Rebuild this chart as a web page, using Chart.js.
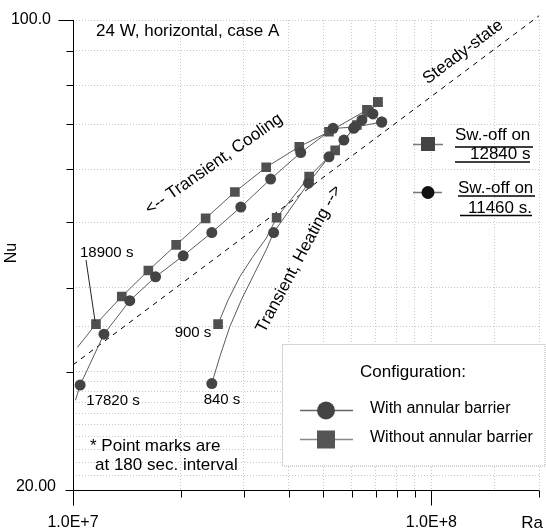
<!DOCTYPE html>
<html>
<head>
<meta charset="utf-8">
<script src="https://cdn.jsdelivr.net/npm/chart.js@4.4.1/dist/chart.umd.min.js"></script>
<style>
  html, body { margin: 0; padding: 0; background: #fff; }
  canvas { display: block; }
</style>
</head>
<body>
<canvas id="nuChart" width="546" height="531"></canvas>
<script>
// Nu vs Ra, 24 W horizontal, case A

const xTicks = [1e7, 2e7, 3e7, 4e7, 5e7, 6e7, 7e7, 8e7, 9e7, 1e8, 2e8];
const xMajor = [1e7, 1e8];
const xTickLabels = ["1.0E+7", "1.0E+8"];
const yTicks = [20, 30, 40, 50, 60, 70, 80, 90, 100];
const yTickLabels = ["20.00", "100.0"];

// with annular barrier (circles)
const withHeatRa = [2.44e7, 3.63e7, 4.54e7, 5.18e7, 5.70e7, 6.07e7, 6.40e7, 6.87e7, 7.27e7];
const withHeatNu = [28.8, 48.3, 57.2, 62.6, 66.3, 69.0, 71.0, 72.5, 70.5];
const withHeatTraceRa = [2.57e7, 2.74e7, 2.95e7, 3.21e7, 3.46e7];
const withHeatTraceNu = [31.6, 35.0, 38.35, 42.0, 45.5];
const withCoolRa = [7.27e7, 6.12e7, 5.32e7, 4.32e7, 3.56e7, 2.94e7, 2.44e7, 2.03e7, 1.70e7, 1.44e7, 1.22e7, 1.047e7];
const withCoolNu = [70.5, 69.3, 69.0, 63.5, 58.0, 52.7, 48.3, 44.6, 41.5, 38.25, 34.1, 28.65];
const withCoolTraceRa = [1.016e7];
const withCoolTraceNu = [27.2];

// without annular barrier (squares)
const withoutHeatRa = [2.54e7, 3.70e7, 4.56e7, 5.39e7, 6.20e7, 6.69e7, 7.09e7];
const withoutHeatNu = [35.3, 50.8, 58.5, 64.0, 69.8, 73.0, 75.5];
const withoutHeatTraceRa = [2.71e7, 2.92e7, 3.18e7, 3.46e7];
const withoutHeatTraceNu = [38.35, 41.5, 44.5, 47.35];
const withoutCoolRa = [7.09e7, 6.61e7, 5.18e7, 4.28e7, 3.46e7, 2.83e7, 2.345e7, 1.94e7, 1.623e7, 1.368e7, 1.159e7];
const withoutCoolNu = [75.5, 73.5, 68.2, 64.8, 60.4, 55.5, 50.7, 46.3, 42.4, 38.8, 35.3];
const withoutCoolTraceRa = [1.029e7];
const withoutCoolTraceNu = [32.6];

// steady-state reference line
const steadyRa = [1e7, 2e8];
const steadyNu = [30.7, 101.5];

const FONT = "'Liberation Sans', Arial, sans-serif";

function track(ra, nu, traceRa, traceNu) {
    const pts = ra.map((x, i) => ({ x: x, y: nu[i], mark: true }))
        .concat(traceRa.map((x, i) => ({ x: x, y: traceNu[i], mark: false })));
    return pts.sort((a, b) => a.x - b.x);
}

function series(points, style, color, r) {
    return {
        data: points,
        showLine: true,
        borderColor: "#5c5c5c",
        borderWidth: 1,
        tension: 0,
        pointStyle: style,
        pointRadius: c => (c.raw && c.raw.mark ? r : 0),
        pointHoverRadius: c => (c.raw && c.raw.mark ? r : 0),
        pointBackgroundColor: color,
        pointBorderWidth: 0
    };
}

function rotText(ctx, str, cx, cy, deg, font) {
    ctx.save();
    ctx.translate(cx, cy);
    ctx.rotate(deg * Math.PI / 180);
    ctx.font = font;
    ctx.textAlign = "center";
    ctx.textBaseline = "middle";
    ctx.fillText(str, 0, 0);
    ctx.restore();
}

function line(ctx, x1, y1, x2, y2, color, w) {
    ctx.save();
    ctx.strokeStyle = color;
    ctx.lineWidth = w;
    ctx.beginPath();
    ctx.moveTo(x1, y1);
    ctx.lineTo(x2, y2);
    ctx.stroke();
    ctx.restore();
}

const overlay = {
    id: "overlay",
    afterDraw(chart) {
        const ctx = chart.ctx;
        const xs = chart.scales.x, ys = chart.scales.y;
        const left = Math.round(xs.getPixelForValue(xTicks[0])) + 0.5;
        const right = xs.getPixelForValue(xTicks[xTicks.length - 1]);
        const bottom = Math.round(ys.getPixelForValue(yTicks[0])) + 0.5;
        const top = ys.getPixelForValue(yTicks[yTicks.length - 1]);

        // axes
        line(ctx, left, top, left, bottom + 15, "#000", 1);
        line(ctx, left - 8, bottom, right, bottom, "#000", 1);
        xTicks.forEach(v => {
            const px = Math.round(xs.getPixelForValue(v)) + 0.5;
            const len = xMajor.includes(v) ? 15 : 7;
            line(ctx, Math.min(px, 545.5), bottom, Math.min(px, 545.5), bottom + len, "#000", 1);
        });
        yTicks.forEach(v => {
            const py = Math.round(ys.getPixelForValue(v)) + 0.5;
            const len = v === 100 ? 15 : 7;
            line(ctx, left - len, py, left, py, "#000", 1);
        });

        ctx.save();
        ctx.fillStyle = "#000";
        ctx.font = "16px " + FONT;
        ctx.textBaseline = "middle";
        ctx.textAlign = "center";
        xMajor.forEach((v, i) => ctx.fillText(xTickLabels[i], xs.getPixelForValue(v), 523));
        ctx.font = "17px " + FONT;
        ctx.fillText("Ra", 532, 523);
        ctx.font = "16px " + FONT;
        ctx.textAlign = "right";
        ctx.fillText(yTickLabels[1], 51, ys.getPixelForValue(100));
        ctx.fillText(yTickLabels[0], 56, ys.getPixelForValue(20) - 3);
        ctx.restore();
        rotText(ctx, "Nu", 12, 253, -90, "16px " + FONT);

        // annotations
        ctx.save();
        ctx.fillStyle = "#000";
        ctx.font = "17px " + FONT;
        ctx.textAlign = "left";
        ctx.textBaseline = "middle";
        ctx.fillText("24 W, horizontal, case A", 96, 31);
        ctx.fillText("* Point marks are", 90, 446);
        ctx.fillText("at 180 sec. interval", 95, 465);
        ctx.font = "15px " + FONT;
        ctx.fillText("18900 s", 80, 253);
        ctx.textAlign = "center";
        ctx.fillText("900 s", 193, 333);
        ctx.fillText("840 s", 222, 400);
        ctx.fillText("17820 s", 113, 401);
        ctx.restore();
        line(ctx, 86, 260, 95, 321, "#222", 1);

        rotText(ctx, "Steady-state", 463, 52, -37, "17px " + FONT);
        rotText(ctx, "<-- Transient, Cooling", 214, 164, -35, "17px " + FONT);
        rotText(ctx, "Transient, Heating -->", 299, 259, -62, "17px " + FONT);

        // switch-off markers
        line(ctx, 413, 144.5, 443, 144.5, "#777", 1.5);
        ctx.fillStyle = "#444";
        ctx.fillRect(421, 137, 14, 14);
        line(ctx, 413, 192.5, 442, 192.5, "#777", 1.5);
        ctx.fillStyle = "#111";
        ctx.beginPath();
        ctx.arc(428, 192.5, 6.5, 0, Math.PI * 2);
        ctx.fill();

        ctx.save();
        ctx.fillStyle = "#000";
        ctx.font = "17px " + FONT;
        ctx.textAlign = "left";
        ctx.textBaseline = "alphabetic";
        ctx.fillText("Sw.-off on", 455, 140);
        ctx.fillText("12840 s", 470, 159);
        ctx.fillText("Sw.-off on", 458, 193);
        ctx.fillText("11460 s.", 468, 213);
        ctx.restore();
        line(ctx, 455, 147, 533, 147, "#000", 1.5);
        line(ctx, 455, 162, 530, 162, "#000", 1.5);
        line(ctx, 458, 196, 535, 196, "#000", 1.5);
        line(ctx, 460, 215.5, 532, 215.5, "#000", 1.5);

        // configuration legend
        ctx.save();
        ctx.fillStyle = "#fff";
        ctx.fillRect(282, 344, 264, 122);
        ctx.strokeStyle = "#aaa";
        ctx.setLineDash([1, 1]);
        ctx.strokeRect(282.5, 344.5, 262.5, 121.5);
        ctx.setLineDash([]);
        ctx.restore();

        line(ctx, 300, 410.5, 353, 410.5, "#666", 1.5);
        ctx.fillStyle = "#444";
        ctx.beginPath();
        ctx.arc(326, 410.5, 9, 0, Math.PI * 2);
        ctx.fill();
        line(ctx, 300, 439.5, 353, 439.5, "#888", 1.5);
        ctx.fillStyle = "#555";
        ctx.fillRect(317, 430.5, 18, 18);

        ctx.save();
        ctx.fillStyle = "#000";
        ctx.font = "17px " + FONT;
        ctx.textAlign = "center";
        ctx.textBaseline = "middle";
        ctx.fillText("Configuration:", 413, 372);
        ctx.font = "16px " + FONT;
        ctx.textAlign = "left";
        ctx.fillText("With annular barrier", 370, 409);
        ctx.fillText("Without annular barrier", 370, 438);
        ctx.restore();
    }
};

new Chart(document.getElementById("nuChart"), {
    type: "scatter",
    data: {
        datasets: [
            series(track(withHeatRa, withHeatNu, withHeatTraceRa, withHeatTraceNu), "circle", "#444", 5.5),
            series(track(withCoolRa, withCoolNu, withCoolTraceRa, withCoolTraceNu), "circle", "#444", 5.5),
            series(track(withoutHeatRa, withoutHeatNu, withoutHeatTraceRa, withoutHeatTraceNu), "rect", "#505050", 6.8),
            series(track(withoutCoolRa, withoutCoolNu, withoutCoolTraceRa, withoutCoolTraceNu), "rect", "#505050", 6.8),
            {
                data: steadyRa.map((x, i) => ({ x: x, y: steadyNu[i] })),
                showLine: true,
                borderColor: "#000",
                borderWidth: 1,
                borderDash: [5, 5],
                pointRadius: 0,
                clip: { left: 0, top: 6, right: 0, bottom: 0 }
            }
        ]
    },
    options: {
        responsive: false,
        animation: false,
        events: [],
        layout: { padding: { left: 73, top: 20, right: 1, bottom: 41 } },
        plugins: {
            legend: { display: false },
            tooltip: { enabled: false }
        },
        scales: {
            x: {
                type: "logarithmic",
                min: xTicks[0],
                max: xTicks[xTicks.length - 1],
                ticks: { display: false },
                grid: { color: "#c8c8c8", lineWidth: 1, drawTicks: false },
                border: { display: false, dash: [1, 2] }
            },
            y: {
                type: "logarithmic",
                min: yTicks[0],
                max: yTicks[yTicks.length - 1],
                ticks: { display: false },
                grid: { color: "#c8c8c8", lineWidth: 1, drawTicks: false },
                border: { display: false, dash: [1, 2] }
            }
        }
    },
    plugins: [overlay]
});
</script>
</body>
</html>
